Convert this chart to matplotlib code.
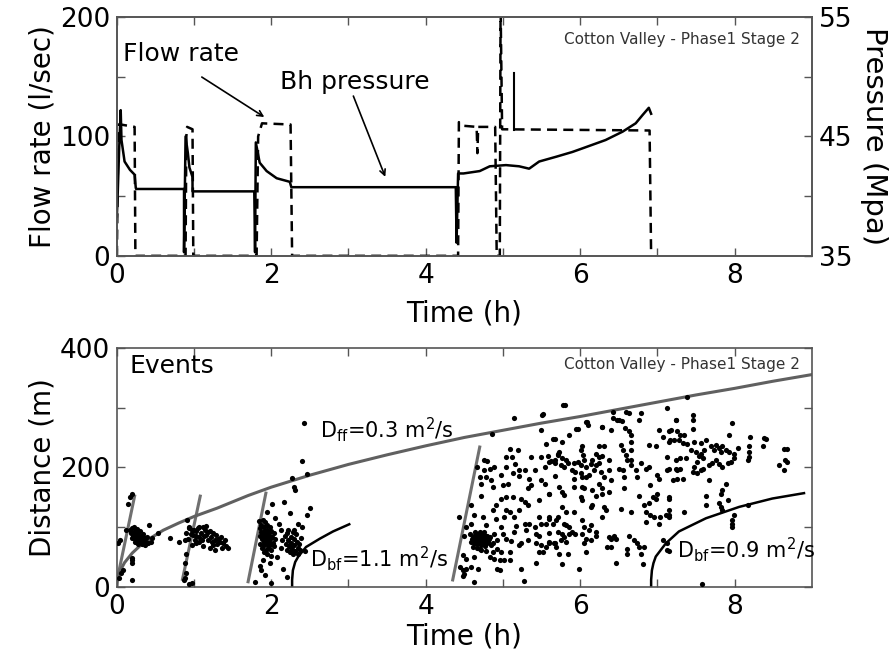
import numpy as np
import matplotlib
matplotlib.use("Agg")
import matplotlib.pyplot as plt

plt.rcParams['font.family'] = ['DejaVu Sans']
plt.rcParams['mathtext.default'] = 'regular'

# ---- top panel: injection data ----
flow_t = [0.0, 0.02, 0.05, 0.23, 0.24, 0.89, 0.90, 0.91, 0.98, 0.99, 1.81, 1.83, 1.88,
          2.25, 2.27, 4.42, 4.43, 4.48, 4.66, 4.67, 4.68, 4.90, 4.92, 4.96, 4.97, 4.99,
          6.90, 6.92]
flow = [0, 110, 110, 108, 0, 0, 100, 108, 106, 0, 0, 100, 111,
        110, 0, 0, 112, 109, 108, 86, 108, 108, 0, 0, 210, 106,
        105, 0]

press_t = [0.0, 0.01, 0.03, 0.05, 0.06, 0.10, 0.17, 0.23, 0.245, 0.25, 0.87, 0.87, 0.89,
           0.92, 0.94, 0.98, 0.98, 1.78, 1.79, 1.80, 1.85, 1.94, 2.07, 2.24, 2.26, 4.39,
           4.40, 4.42, 4.49, 4.70, 4.83, 5.04, 5.21, 5.34, 5.47, 5.69, 5.90, 6.03, 6.33,
           6.55, 6.72, 6.81, 6.89, 6.92]
press = [38.3, 40.0, 44.0, 47.2, 44.7, 42.9, 42.2, 41.8, 40.7, 40.6, 40.6, 35.3, 45.0,
         43.6, 42.4, 41.6, 40.4, 40.4, 35.3, 44.5, 42.8, 42.1, 41.5, 41.2, 40.75, 40.75,
         36.1, 41.9, 41.9, 42.1, 42.5, 42.6, 42.5, 42.3, 42.9, 43.3, 43.7, 44.0, 44.7,
         45.4, 46.1, 46.8, 47.4, 46.9]

spike_t = [5.14, 5.14]
spike_q = [153, 105]

# ---- bottom panel: events (time h, distance m) ----
ev_c1 = [(0.19,156),(0.15,139),(0.12,95),(0.17,150),(0.01,73),(0.04,79),(0.20,49),(0.20,40),
         (0.08,28),(0.05,23),(0.19,12),(0.03,15),(0.19,45),(0.42,104),(0.53,90),(0.69,82),
         (0.80,75),(0.17,95),(0.18,90),(0.20,98),(0.21,85),(0.22,92),(0.23,80),(0.24,88),
         (0.25,95),(0.26,83),(0.27,78),(0.28,90),(0.29,86),(0.30,80),(0.31,76),(0.32,84),
         (0.33,72),(0.34,88),(0.35,78),(0.36,82),(0.37,70),(0.38,76),(0.39,84),(0.40,74),
         (0.22,100),(0.26,97),(0.30,93),(0.19,82),(0.24,76),(0.28,72),(0.33,80),(0.36,74),
         (0.46,82),(0.44,76)]
ev_c2 = [(0.91,112),(0.94,101),(0.90,90),(0.88,79),(0.92,81),(0.97,95),(0.99,87),(1.01,79),
         (1.03,93),(1.05,98),(1.07,84),(1.09,90),(1.12,101),(1.14,95),(1.15,102),(1.16,87),
         (1.18,79),(1.20,93),(1.22,84),(1.25,90),(1.27,79),(1.29,87),(1.31,81),(1.33,76),
         (1.35,84),(1.38,73),(1.40,79),(1.42,69),(1.25,70),(1.27,62),(1.03,73),(1.07,76),
         (0.97,70),(0.90,56),(0.88,40),(0.89,23),(0.87,12),(0.94,6),(0.88,15),(0.97,7),
         (0.94,99),(1.07,100),(1.00,96),(1.10,78),(1.13,85),(1.18,92),(1.23,76),(1.30,72),
         (1.02,85),(0.96,88),(1.11,68),(1.36,66),(1.44,66),(1.20,66)]
ev_c3 = [(2.43,274),(2.40,211),(2.46,189),(2.27,182),(2.30,168),(2.31,162),(2.01,139),
         (2.17,142),(2.50,132),(2.46,120),(2.24,124),(1.89,45),(1.87,28),(1.79,8),(2.00,7),
         (2.21,17),(2.26,67),(1.95,125),(2.05,115),(2.10,105),(2.12,95),(1.86,35),(1.92,20),
         (1.98,40),(2.08,50),(2.15,30),(2.35,105),(2.40,100),(2.30,95),(2.44,60),
         (1.84,110),(1.85,98),(1.85,85),(1.86,72),(1.87,104),(1.87,92),(1.88,80),(1.88,66),
         (1.89,112),(1.89,88),(1.90,76),(1.90,100),(1.91,70),(1.91,94),(1.92,84),(1.92,108),
         (1.93,62),(1.93,78),(1.94,96),(1.94,88),(1.95,72),(1.95,104),(1.96,82),(1.96,66),
         (1.97,92),(1.97,76),(1.98,100),(1.98,86),(1.99,70),(1.99,80),(2.00,94),(2.00,62),
         (2.01,84),(2.02,74),(2.03,90),(2.04,68),(2.05,80),(1.90,58),(1.95,55),(2.00,52),
         (2.18,85),(2.19,72),(2.20,62),(2.21,90),(2.22,78),(2.23,68),(2.24,58),(2.25,84),
         (2.26,74),(2.27,64),(2.28,55),(2.29,80),(2.30,70),(2.31,60),(2.32,88),(2.33,76),
         (2.34,66),(2.35,56),(2.36,72),(2.37,62),(2.38,82),(2.22,95),(2.28,92),(2.14,78),
         (2.12,65)]
ev_c4 = [(5.15,282),(5.52,290),(5.49,262),(4.86,256),(5.09,230),(5.19,229),(5.56,239),
         (5.67,247),(4.75,213),(4.79,210),(5.04,217),(5.12,217),(5.37,217),(5.49,217),
         (5.58,219),(5.62,211),(5.71,221),(4.66,200),(4.75,195),(4.83,197),(4.89,201),
         (5.04,201),(5.16,205),(5.21,195),(5.29,195),(5.41,195),(5.55,201),(5.68,207),
         (4.70,184),(4.78,184),(4.85,179),(4.98,187),(5.13,190),(5.21,185),(5.34,181),
         (5.49,179),(5.67,185),(4.72,173),(4.87,167),(5.00,170),(5.06,173),(5.32,165),
         (5.37,170),(5.55,173),(4.72,152),(4.98,148),(5.04,151),(5.13,150),(5.24,148),
         (5.29,142),(5.32,137),(5.47,145),(5.60,156),(4.59,138),(4.91,137),(5.04,129),
         (5.09,126),(4.87,128),(5.21,128),(4.43,117),(4.63,120),(4.74,117),(4.91,114),
         (5.02,117),(5.15,117),(5.47,117),(5.60,114),(5.71,117),(4.52,100),(4.59,105),
         (4.78,103),(4.98,100),(5.17,102),(5.28,106),(5.34,106),(5.41,100),(5.49,105),
         (5.56,106),(5.65,106),(4.50,86),(4.57,89),(4.61,84),(4.65,81),(4.70,84),(4.74,81),
         (4.78,86),(4.83,84),(4.89,89),(5.00,89),(5.15,92),(5.30,96),(5.43,89),(5.47,86),
         (5.60,90),(4.59,75),(4.63,73),(4.68,78),(4.72,75),(4.76,73),(4.81,75),(4.87,73),
         (4.93,78),(5.04,81),(5.11,77),(5.24,73),(5.32,78),(5.43,73),(5.49,70),(5.56,67),
         (5.67,73),(4.61,67),(4.70,64),(4.78,61),(4.87,59),(4.93,64),(4.98,59),(5.09,59),
         (5.21,70),(5.47,59),(5.60,73),(4.48,53),(4.52,47),(4.63,50),(4.83,50),(4.89,47),
         (4.96,45),(5.02,46),(5.09,45),(5.43,40),(5.52,59),(4.44,33),(4.48,28),(4.52,31),
         (4.59,33),(4.68,31),(4.93,31),(5.24,31),(4.96,28),(4.50,22),(4.48,19),(4.63,8),
         (5.27,11),
         (4.60,80),(4.62,86),(4.64,76),(4.66,84),(4.67,72),(4.68,88),(4.69,80),(4.70,76),
         (4.71,84),(4.72,70),(4.73,80),(4.74,88),(4.75,76),(4.76,82),(4.77,68),(4.78,78),
         (4.79,86),(4.80,74),(4.82,80),(4.84,70),(4.64,92),(4.70,92),(4.76,92),(4.66,66),
         (4.72,62),
         (5.78,305),(6.60,293),(6.63,291),(6.79,291),(7.13,299),(6.48,279),(6.54,278),
         (6.76,279),(7.24,279),(6.08,276),(6.10,271),(5.97,264),(6.29,267),(6.40,262),
         (6.58,265),(6.63,260),(6.66,254),(7.02,262),(7.07,251),(7.15,260),(7.17,246),
         (5.86,254),(5.65,247),(5.77,243),(6.03,235),(6.24,236),(6.31,236),(6.53,237),
         (6.56,229),(6.66,243),(6.66,229),(6.89,237),(6.98,235),(5.73,226),(5.71,223),
         (6.01,229),(6.04,221),(6.20,223),(6.25,217),(6.16,212),(6.29,219),(6.38,212),
         (6.59,221),(6.61,212),(6.66,213),(7.13,218),(7.24,213),(5.60,209),(5.68,212),
         (5.77,215),(5.82,212),(5.84,207),(5.79,201),(5.75,204),(5.92,207),(5.97,209),
         (6.01,204),(6.05,212),(6.07,201),(6.14,205),(6.20,204),(6.25,207),(5.89,196),
         (5.94,193),(6.01,190),(6.07,184),(6.12,187),(6.18,196),(6.27,193),(6.38,196),
         (6.40,179),(6.31,184),(6.51,198),(6.55,196),(6.57,184),(6.66,204),(6.72,196),
         (6.74,184),(6.79,207),(6.85,198),(6.89,201),(7.00,187),(7.02,181),(7.13,196),
         (7.26,196),(7.26,181),(5.92,181),(6.03,184),(5.92,167),(6.03,167),(6.05,165),
         (6.25,173),(6.29,165),(6.16,162),(5.60,156),(5.73,167),(5.77,159),(5.79,154),
         (6.01,151),(6.03,145),(6.20,153),(6.29,156),(6.38,159),(6.16,137),(6.14,134),
         (6.57,165),(6.76,153),(6.91,170),(6.94,151),(6.98,148),(7.00,156),(7.15,148),
         (5.77,134),(5.82,126),(5.92,126),(6.31,134),(6.29,117),(6.34,128),(6.53,131),
         (6.66,126),(6.83,137),(6.85,126),(6.89,140),(6.91,120),(6.96,117),(7.04,117),
         (7.11,120),(7.15,128),(5.60,117),(5.69,112),(5.79,106),(5.82,103),(5.86,100),
         (6.03,112),(6.05,100),(6.14,103),(6.12,95),(6.20,92),(6.85,109),(7.02,106),
         (7.15,117),(5.71,92),(5.77,89),(5.79,84),(5.75,78),(5.82,75),(5.86,89),(5.90,92),
         (5.94,89),(5.60,75),(5.66,73),(5.69,67),(6.03,89),(6.07,81),(6.05,73),(6.14,78),
         (6.20,86),(6.38,84),(6.40,81),(6.44,86),(6.46,81),(6.63,86),(6.70,78),(6.74,73),
         (6.76,67),(6.35,67),(6.40,67),(6.61,64),(6.61,56),(6.83,67),(5.73,56),(5.84,56),
         (6.07,59),(6.46,40),(6.79,56),(6.81,39),(5.77,39),(5.99,30),(7.07,78),(7.13,73),
         (7.15,61),(6.42,293),(6.50,280),(6.42,283),(6.29,268),(6.09,276),(5.95,264),
         (5.80,305),(5.51,288),
         (7.39,317),(7.46,288),(7.46,279),(7.24,279),(7.97,275),(7.18,262),(7.26,260),
         (7.30,254),(7.35,254),(7.46,264),(7.93,254),(7.15,243),(7.22,246),(7.28,246),
         (7.33,240),(7.39,239),(7.48,243),(7.56,241),(7.63,246),(8.20,250),(8.41,248),
         (8.37,235),(8.19,236),(8.19,226),(8.19,217),(8.18,212),(7.43,229),(7.50,226),
         (7.54,219),(7.56,223),(7.61,229),(7.69,235),(7.74,229),(7.76,237),(7.80,232),
         (7.82,226),(7.84,235),(7.89,229),(7.93,226),(7.99,223),(8.04,233),(7.99,215),
         (7.30,215),(7.37,215),(7.52,209),(7.59,215),(7.67,204),(7.71,207),(7.76,212),
         (7.80,205),(7.84,201),(7.91,207),(7.95,209),(8.64,230),(8.68,230),(8.66,213),
         (8.68,209),(8.58,204),(8.64,195),(7.15,198),(7.24,198),(7.30,197),(7.48,201),
         (7.46,193),(7.52,190),(7.56,196),(7.59,198),(7.20,179),(7.33,181),(7.67,179),
         (7.89,173),(7.15,151),(7.63,152),(7.84,162),(7.82,156),(7.91,146),(7.15,120),
         (7.35,126),(7.63,137),(7.80,140),(7.82,134),(7.84,128),(8.17,137),(7.99,120),
         (7.97,112),(7.97,106),(7.97,100),(7.13,62),(7.58,6),(8.38,249)]

# migration fronts (gray straight lines)
front_t = [[0.00, 0.23], [0.85, 1.08], [1.70, 1.93], [4.35, 4.70]]
front_d = [[10, 152], [13, 152], [9, 157], [12, 234]]

# triggering front D_ff = 0.3 m2/s
dff_t = [0.0, 0.005, 0.02, 0.05, 0.10, 0.20, 0.30, 0.45, 0.60, 0.80, 1.0, 1.3, 1.7, 2.0,
         2.5, 3.0, 3.5, 4.0, 4.5, 5.0, 5.5, 6.0, 6.5, 7.0, 7.5, 8.0, 8.5, 9.0]
dff_d = [0, 9, 19, 29, 41, 57, 69, 83, 95, 107, 118, 132, 153, 167,
         187, 205, 221, 236, 250, 262, 274, 285, 297, 309, 321, 332, 344, 355]

# back fronts
dbf1_t = [2.27, 2.27, 2.28, 2.31, 2.35, 2.45, 2.63, 2.80, 3.01]
dbf1_d = [0, 12, 28, 42, 51, 67, 81, 93, 105]
dbf2_t = [6.92, 6.92, 6.93, 6.95, 6.98, 7.11, 7.28, 7.63, 8.06, 8.49, 8.90]
dbf2_d = [0, 12, 28, 40, 51, 73, 93, 115, 134, 148, 157]

spine_c = '#555555'
big = 19
small = 11

fig = plt.figure(figsize=(8.92, 6.56), dpi=100)

# ================= top panel =================
ax1 = fig.add_axes([0.131, 0.610, 0.779, 0.364])
ax1.plot(flow_t, flow, color='black', lw=1.8, ls=(0, (4, 2.5)))
ax1.plot(spike_t, spike_q, color='black', lw=1.5)
ax1.set_xlim(0, 9)
ax1.set_ylim(0, 200)
ax1.set_yticks([0, 100, 200])
ax1.set_yticks([50, 150], minor=True)
ax1.set_xticks([0, 2, 4, 6, 8])
ax1.set_xticks([1, 3, 5, 7], minor=True)
ax1.set_ylabel('Flow rate (l/sec)', fontsize=big + 1, labelpad=2)
ax1.set_xlabel('Time (h)', fontsize=big + 1, labelpad=8)

ax2 = ax1.twinx()
ax2.plot(press_t, press, color='black', lw=1.8)
ax2.set_ylim(35, 55)
ax2.set_yticks([35, 45, 55])
ax2.set_yticks([40, 50], minor=True)
ax2.set_ylabel('Pressure (Mpa)', fontsize=big + 2, rotation=270, labelpad=26)

ax1.text(0.983, 0.908, 'Cotton Valley - Phase1 Stage 2', transform=ax1.transAxes,
         ha='right', va='center', fontsize=small, color='#333333')
ax1.annotate('', xy=(1.94, 115), xytext=(1.07, 151),
             arrowprops=dict(arrowstyle='->', color='black', lw=1.2))
ax1.text(0.08, 169, 'Flow rate', fontsize=big - 1, ha='left', va='center')
ax1.annotate('', xy=(3.49, 64), xytext=(3.05, 136),
             arrowprops=dict(arrowstyle='->', color='black', lw=1.2))
ax1.text(2.11, 146, 'Bh pressure', fontsize=big - 1, ha='left', va='center')

# ================= bottom panel =================
ax3 = fig.add_axes([0.131, 0.105, 0.779, 0.365])
pts = ev_c1 + ev_c2 + ev_c3 + ev_c4
ax3.scatter([p[0] for p in pts], [p[1] for p in pts], s=14, color='black',
            linewidths=0, zorder=3)
for ft, fd in zip(front_t, front_d):
    ax3.plot(ft, fd, color='#707070', lw=2.2, zorder=2)
ax3.plot(dff_t, dff_d, color='#606060', lw=2.2, zorder=2)
ax3.plot(dbf1_t, dbf1_d, color='black', lw=1.8, zorder=2)
ax3.plot(dbf2_t, dbf2_d, color='black', lw=1.8, zorder=2)
ax3.set_xlim(0, 9)
ax3.set_ylim(0, 400)
ax3.set_yticks([0, 200, 400])
ax3.set_xticks([0, 2, 4, 6, 8])
ax3.set_xticks([1, 3, 5, 7], minor=True)
ax3.set_ylabel('Distance (m)', fontsize=big + 1, labelpad=2)
ax3.set_xlabel('Time (h)', fontsize=big + 1, labelpad=2)
ax3.text(0.983, 0.929, 'Cotton Valley - Phase1 Stage 2', transform=ax3.transAxes,
         ha='right', va='center', fontsize=small, color='#333333')
ax3.text(0.018, 0.925, 'Events', transform=ax3.transAxes, fontsize=big - 1,
         ha='left', va='center')
ax3.text(2.63, 263, r'D$_{\rm ff}$=0.3 m$^2$/s', fontsize=big - 4, ha='left', va='center')
ax3.text(2.50, 47, r'D$_{\rm bf}$=1.1 m$^2$/s', fontsize=big - 4, ha='left', va='center')
ax3.text(7.26, 62, r'D$_{\rm bf}$=0.9 m$^2$/s', fontsize=big - 4, ha='left', va='center')

for ax in (ax1, ax2, ax3):
    for sp in ax.spines.values():
        sp.set_color(spine_c)
        sp.set_linewidth(1.2)
    ax.tick_params(which='both', direction='in', length=6, width=1, color=spine_c,
                   labelsize=big, pad=5)
ax1.tick_params(which='both', top=True, right=False)
ax2.tick_params(which='both', right=True, left=False)
ax3.tick_params(which='both', top=True, right=True)
ax3.set_yticks([100, 200, 300], minor=True)

fig.savefig('out.png', dpi=100)
